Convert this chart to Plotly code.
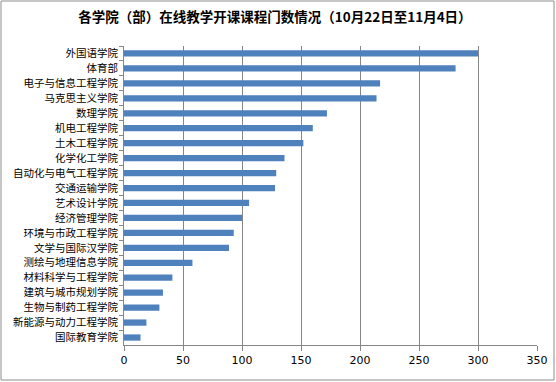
import plotly.graph_objects as go

title_text = "各学院（部）在线教学开课课程门数情况（10月22日至11月4日）"

colleges = [
    "外国语学院", "体育部", "电子与信息工程学院", "马克思主义学院", "数理学院",
    "机电工程学院", "土木工程学院", "化学化工学院", "自动化与电气工程学院", "交通运输学院",
    "艺术设计学院", "经济管理学院", "环境与市政工程学院", "文学与国际汉学院", "测绘与地理信息学院",
    "材料科学与工程学院", "建筑与城市规划学院", "生物与制药工程学院", "新能源与动力工程学院", "国际教育学院",
]
course_counts = [300, 281, 217, 214, 172, 160, 152, 136, 129, 128,
                 106, 100, 93, 89, 58, 41, 33, 30, 19, 14]

x_ticks = [0, 50, 100, 150, 200, 250, 300, 350]

W, H = 556, 382
L, R, T, B = 124, 19, 46, 37
pw, ph = W - L - R, H - T - B

def px_to_paper_x(px):
    return (px - L) / pw

def py_to_paper_y(py):
    return (H - B - py) / ph

fig = go.Figure(go.Bar(
    x=course_counts,
    y=colleges,
    orientation="h",
    marker=dict(color="#4F81BD", line=dict(width=0)),
))

fig.update_layout(
    width=W, height=H,
    margin=dict(l=L, r=R, t=T, b=B, autoexpand=False),
    paper_bgcolor="white",
    plot_bgcolor="white",
    bargap=0.58,
    showlegend=False,
    title=dict(
        text="<b>" + title_text + "</b>",
        x=275 / W, xref="container", xanchor="center",
        y=1 - 17 / H, yref="container", yanchor="middle",
        font=dict(family="Noto Sans CJK SC", size=13.5, color="black"),
    ),
    shapes=[dict(
        type="rect", xref="paper", yref="paper",
        x0=px_to_paper_x(1), x1=px_to_paper_x(554),
        y0=py_to_paper_y(380), y1=py_to_paper_y(1),
        line=dict(color="#8c8c8c", width=1), fillcolor="rgba(0,0,0,0)",
        layer="below",
    )],
)

fig.update_xaxes(
    range=[0, 350],
    tickvals=x_ticks,
    showgrid=True, gridcolor="#868686", gridwidth=1,
    showline=True, linecolor="#868686", linewidth=1,
    ticks="outside", ticklen=5, tickcolor="#868686",
    tickfont=dict(family="DejaVu Sans", size=11, color="black"),
    zeroline=False,
    fixedrange=True,
)

fig.update_yaxes(
    autorange="reversed",
    categoryorder="array", categoryarray=colleges,
    showline=True, linecolor="#868686", linewidth=1,
    ticks="outside", ticklen=4, tickcolor="#868686",
    tickson="boundaries",
    ticklabelstandoff=3,
    tickfont=dict(family="Noto Sans CJK SC", size=10.5, color="black"),
    showgrid=False, zeroline=False,
    fixedrange=True,
)

fig.write_html(
    "out.html",
    config={"displayModeBar": False},
    post_script="document.body.style.margin='0';document.body.style.overflow='hidden';",
)
